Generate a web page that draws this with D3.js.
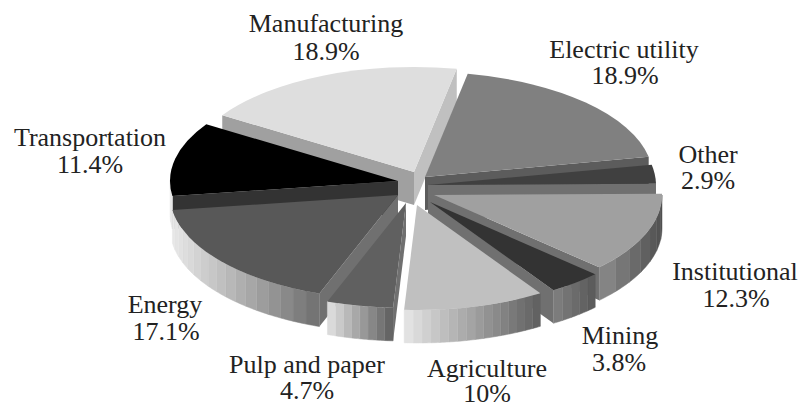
<!DOCTYPE html>
<html>
<head>
<meta charset="utf-8">
<script src="https://cdn.jsdelivr.net/npm/d3@7"></script>
<style>
  html, body { margin: 0; padding: 0; background: #fff; }
  text { font-family: "Liberation Serif", serif; font-size: 26px; fill: #222; text-anchor: middle; }
</style>
</head>
<body>
<svg id="chart" width="812" height="405"></svg>
<script>
// clockwise from the top
const categories = ['Electric utility', 'Other', 'Institutional', 'Mining', 'Agriculture', 'Pulp and paper', 'Energy', 'Transportation', 'Manufacturing'];
const shares = [18.9, 2.9, 12.3, 3.8, 10, 4.7, 17.1, 11.4, 18.9];

const w = 812;
const h = 405;
const rx = 228;
const ry = 105;
const depth = 33;
const cx = 415;
const cy = 190;
const firstAngle = 10.8 * Math.PI / 180;

// styling per slice, same order as categories
const explode = [[10, -13], [13, -5], [19, 5], [15, 12], [2, 15], [-9, 13], [-17, 5], [-17, -9], [-1, -18]];
const topColor = ['#808080', '#404040', '#a0a0a0', '#333333', '#c0c0c0', '#606060', '#585858', '#000000', '#dedede'];
const startWall = [null, null, null, null, null, '#707070', '#707070', '#333333', '#a0a0a0'];
const endWall = ['#5c5c5c', '#707070', '#707070', '#707070', null, null, null, null, '#c0c0c0'];
const rimColor = [
    ['#888', '#555'], ['#888', '#555'], ['#8c8c8c', '#505050'], ['#808080', '#585858'], ['#e6e6e6', '#5e5e5e'],
    ['#e2e2e2', '#5c5c5c'], ['#e8e8e8', '#6e6e6e'], ['#e8e8e8', '#e8e8e8'], ['#888', '#888']
];
// name x, name baseline, share x, share baseline
const labelPos = [
    [624, 58, 625, 84], [708, 163, 708, 189], [735, 280, 736, 307], [620, 344, 619, 371], [487, 377, 487, 402],
    [307, 373, 307, 399], [165, 313, 166, 340], [90, 146, 90, 173], [326, 32, 326, 60]
];

const svg = d3.select('#chart');

const pie = d3.pie()
    .sort(null)
    .startAngle(firstAngle)
    .endAngle(firstAngle + 2 * Math.PI);
const slices = pie(shares);

const arc = d3.arc().innerRadius(0).outerRadius(rx);
const rimPoint = (a, dy) => [rx * Math.sin(a), -ry * Math.cos(a) + dy];

const wallPath = a => {
    const p = rimPoint(a, 0);
    return d3.line()([[0, 0], p, [p[0], p[1] + depth], [0, depth]]);
};

const drawSlice = (d, i) => {
    const g = svg.append('g')
        .attr('transform', `translate(${cx + explode[i][0]},${cy + explode[i][1]})`);

    // radial walls, only the ones that face the viewer
    if (startWall[i] && Math.sin(d.startAngle) < 0) {
        g.append('path').attr('d', wallPath(d.startAngle)).attr('fill', startWall[i]);
    }
    if (endWall[i] && Math.sin(d.endAngle) > 0) {
        g.append('path').attr('d', wallPath(d.endAngle)).attr('fill', endWall[i]);
    }

    // outer rim, stepped bands like the original
    const a0 = Math.max(d.startAngle, Math.PI / 2);
    const a1 = Math.min(d.endAngle, 3 * Math.PI / 2);
    if (a1 > a0) {
        const xA = rimPoint(a0, 0)[0];
        const xB = rimPoint(a1, 0)[0];
        const bands = Math.max(2, Math.ceil(Math.abs(xB - xA) / 9));
        const color = d3.scaleLinear()
            .domain([Math.min(xA, xB), Math.max(xA, xB)])
            .range(rimColor[i])
            .interpolate(d3.interpolateRgb);
        d3.range(bands).forEach(k => {
            const t0 = a0 + (a1 - a0) * k / bands;
            const t1 = a0 + (a1 - a0) * (k + 1) / bands;
            const steps = d3.range(5).map(s => t0 + (t1 - t0) * s / 4);
            const upper = steps.map(t => rimPoint(t, 0));
            const lower = steps.slice().reverse().map(t => rimPoint(t, depth));
            const c = color((rimPoint(t0, 0)[0] + rimPoint(t1, 0)[0]) / 2);
            g.append('path')
                .attr('d', d3.line()(upper.concat(lower)) + 'Z')
                .attr('fill', c)
                .attr('stroke', c)
                .attr('stroke-width', 0.5);
        });
    }

    // top face
    g.append('path')
        .attr('transform', `scale(1,${ry / rx})`)
        .attr('d', arc(d))
        .attr('fill', topColor[i]);
};

// back to front
const order = [8, 7, 6, 5, 0, 1, 2, 3, 4];
order.forEach(i => drawSlice(slices[i], i));

categories.forEach((name, i) => {
    const [x1, y1, x2, y2] = labelPos[i];
    svg.append('text').attr('x', x1).attr('y', y1).text(name);
    svg.append('text').attr('x', x2).attr('y', y2).text(shares[i] + '%');
});
</script>
</body>
</html>
